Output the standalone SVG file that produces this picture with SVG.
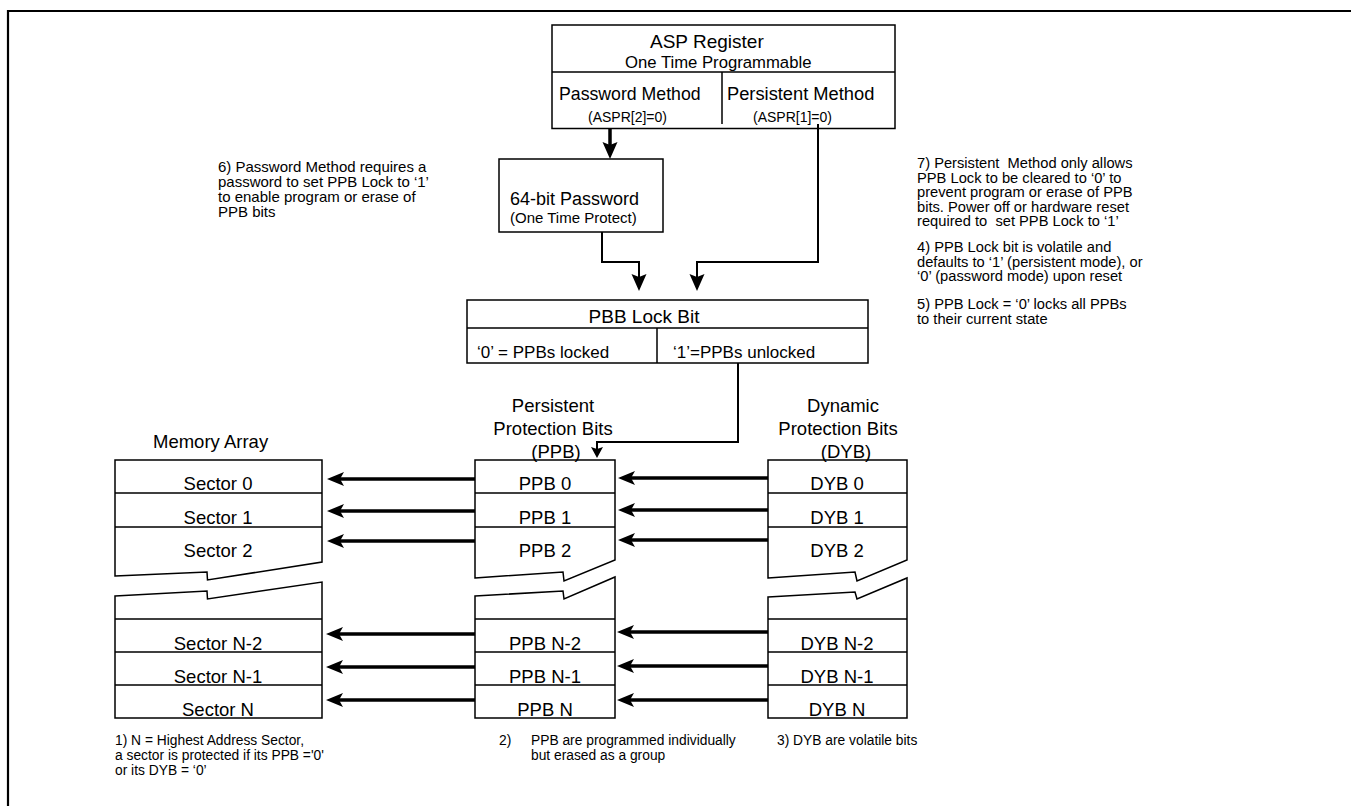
<svg xmlns="http://www.w3.org/2000/svg" width="1351" height="806" viewBox="0 0 1351 806">
<style>
text{font-family:"Liberation Sans",Arial,Helvetica,sans-serif;fill:#000}
.box{fill:none;stroke:#000;stroke-width:1.5}
.ln{fill:none;stroke:#000;stroke-width:2}
.th{fill:none;stroke:#000;stroke-width:3.5}
.lbl{font-size:18.5px;text-anchor:middle}
.hd{font-size:18.5px;text-anchor:middle}
.note{font-size:14.7px}
</style>
<defs>
<marker id="ah" markerUnits="userSpaceOnUse" markerWidth="18" markerHeight="14" refX="5" refY="7" orient="auto"><path d="M0,0 L17,7 L0,14 L4,7 Z" fill="#000"/></marker>
<marker id="ahd" markerUnits="userSpaceOnUse" markerWidth="18" markerHeight="16" refX="5" refY="7.5" orient="auto"><path d="M0,0 L17,7.5 L0,15 L3,7.5 Z" fill="#000"/></marker>
<marker id="ahs" markerUnits="userSpaceOnUse" markerWidth="12" markerHeight="12" refX="3" refY="6" orient="auto"><path d="M0,0 L11,6 L0,12 L2,6 Z" fill="#000"/></marker>
</defs>
<rect width="1351" height="806" fill="#fff"/>
<g id="frame"><path d="M8,806 V11 H1351" fill="none" stroke="#000" stroke-width="2.2"/></g>

<g id="asp-register">
<rect class="box" x="552" y="25" width="343" height="103.5"/>
<path class="box" d="M552,72 H895 M722,72 V124"/>
<text x="650" y="48" font-size="19">ASP Register</text>
<text x="625" y="68" font-size="16.7">One Time Programmable</text>
<text x="559" y="100" font-size="17.7">Password Method</text>
<text x="727" y="100" font-size="18.3">Persistent Method</text>
<text x="588" y="122" font-size="14">(ASPR[2]=0)</text>
<text x="753" y="122" font-size="14">(ASPR[1]=0)</text>
</g>

<g id="password">
<rect class="box" x="499" y="159" width="164" height="73"/>
<text x="510" y="205" font-size="18">64-bit Password</text>
<text x="510" y="223" font-size="15">(One Time Protect)</text>
</g>

<g id="pbb-lock">
<rect class="box" x="467" y="300" width="401" height="63"/>
<path class="box" d="M467,328 H868 M657,328 V363"/>
<text x="644" y="323" font-size="19" text-anchor="middle">PBB Lock Bit</text>
<text x="477" y="358" font-size="17">‘0’ = PPBs locked</text>
<text x="673" y="358" font-size="17">‘1’=PPBs unlocked</text>
</g>

<g id="memory-array">
<text x="153" y="448" font-size="18.5">Memory Array</text>
<path class="box" d="M115,576 L207,572 L207.5,580 L322,562 V460 H115 Z"/>
<path class="box" d="M115,493 H322 M115,527 H322"/>
<path class="box" d="M115,596 L207,591 L207.5,599 L322,582 V718 H115 Z"/>
<path class="box" d="M115,619 H322 M115,652 H322 M115,685 H322"/>
<text class="lbl" x="218" y="490">Sector 0</text>
<text class="lbl" x="218" y="524">Sector 1</text>
<text class="lbl" x="218" y="557">Sector 2</text>
<text class="lbl" x="218" y="650">Sector N-2</text>
<text class="lbl" x="218" y="683">Sector N-1</text>
<text class="lbl" x="218" y="716">Sector N</text>
</g>

<g id="ppb">
<text class="hd" x="553" y="412">Persistent</text>
<text class="hd" x="553" y="435">Protection Bits</text>
<text class="hd" x="556" y="458">(PPB)</text>
<path class="box" d="M475,578 L563,572 L564,581 L615,560 V460 H475 Z"/>
<path class="box" d="M475,493 H615 M475,527 H615"/>
<path class="box" d="M475,596 L563,591 L564,599 L615,577 V718 H475 Z"/>
<path class="box" d="M475,619 H615 M475,652 H615 M475,685 H615"/>
<text class="lbl" x="545" y="490">PPB 0</text>
<text class="lbl" x="545" y="524">PPB 1</text>
<text class="lbl" x="545" y="557">PPB 2</text>
<text class="lbl" x="545" y="650">PPB N-2</text>
<text class="lbl" x="545" y="683">PPB N-1</text>
<text class="lbl" x="545" y="716">PPB N</text>
</g>

<g id="dyb">
<text class="hd" x="843" y="412">Dynamic</text>
<text class="hd" x="838" y="435">Protection Bits</text>
<text class="hd" x="846" y="458">(DYB)</text>
<path class="box" d="M768,578 L855,572 L857,581 L907,560 V460 H768 Z"/>
<path class="box" d="M768,493 H907 M768,527 H907"/>
<path class="box" d="M768,597 L855,592 L857,599 L907,578 V718 H768 Z"/>
<path class="box" d="M768,619 H907 M768,652 H907 M768,685 H907"/>
<text class="lbl" x="837" y="490">DYB 0</text>
<text class="lbl" x="837" y="524">DYB 1</text>
<text class="lbl" x="837" y="557">DYB 2</text>
<text class="lbl" x="837" y="650">DYB N-2</text>
<text class="lbl" x="837" y="683">DYB N-1</text>
<text class="lbl" x="837" y="716">DYB N</text>
</g>

<g id="connectors">
<path class="th" d="M610,128 V147" stroke-width="3" marker-end="url(#ahd)"/>
<polyline class="ln" points="602,232 602,262 639,262 639,279" marker-end="url(#ahd)"/>
<polyline class="ln" points="818,124 818,262 697,262 697,279" marker-end="url(#ahd)"/>
<polyline class="ln" points="738,363 738,442 597,442 597,450" marker-end="url(#ahs)"/>
<line class="th" x1="475" y1="479" x2="339" y2="479" marker-end="url(#ah)"/>
<line class="th" x1="475" y1="511" x2="339" y2="511" marker-end="url(#ah)"/>
<line class="th" x1="475" y1="541" x2="339" y2="541" marker-end="url(#ah)"/>
<line class="th" x1="475" y1="634" x2="338" y2="634" marker-end="url(#ah)"/>
<line class="th" x1="475" y1="667" x2="338" y2="667" marker-end="url(#ah)"/>
<line class="th" x1="475" y1="700" x2="338" y2="700" marker-end="url(#ah)"/>
<line class="th" x1="768" y1="478" x2="630" y2="478" marker-end="url(#ah)"/>
<line class="th" x1="768" y1="510" x2="630" y2="510" marker-end="url(#ah)"/>
<line class="th" x1="768" y1="540" x2="630" y2="540" marker-end="url(#ah)"/>
<line class="th" x1="768" y1="632" x2="629" y2="632" marker-end="url(#ah)"/>
<line class="th" x1="768" y1="666" x2="629" y2="666" marker-end="url(#ah)"/>
<line class="th" x1="768" y1="700" x2="629" y2="700" marker-end="url(#ah)"/>
</g>

<g id="notes">
<text font-size="15"><tspan x="218" y="172">6) Password Method requires a</tspan><tspan x="218" y="187">password to set PPB Lock to ‘1’</tspan><tspan x="218" y="202">to enable program or erase of</tspan><tspan x="218" y="217">PPB bits</tspan></text>
<text class="note"><tspan x="917" y="168">7) Persistent&#160; Method only allows</tspan><tspan x="917" y="182.5">PPB Lock to be cleared to ‘0’ to</tspan><tspan x="917" y="197">prevent program or erase of PPB</tspan><tspan x="917" y="211.5">bits. Power off or hardware reset</tspan><tspan x="917" y="226">required to&#160; set PPB Lock to ‘1’</tspan></text>
<text class="note"><tspan x="917" y="252">4) PPB Lock bit is volatile and</tspan><tspan x="917" y="266.5">defaults to ‘1’ (persistent mode), or</tspan><tspan x="917" y="281">‘0’ (password mode) upon reset</tspan></text>
<text class="note"><tspan x="917" y="309">5) PPB Lock = ‘0’ locks all PPBs</tspan><tspan x="917" y="323.5">to their current state</tspan></text>
<text font-size="13.8"><tspan x="115" y="745">1) N = Highest Address Sector,</tspan><tspan x="115" y="760">a sector is protected if its PPB ='0'</tspan><tspan x="115" y="775">or its DYB = ‘0’</tspan></text>
<text font-size="13.8"><tspan x="499" y="745">2)</tspan><tspan x="531" y="745">PPB are programmed individually</tspan><tspan x="531" y="760">but erased as a group</tspan></text>
<text font-size="13.8"><tspan x="777" y="745">3) DYB are volatile bits</tspan></text>
</g>
</svg>
